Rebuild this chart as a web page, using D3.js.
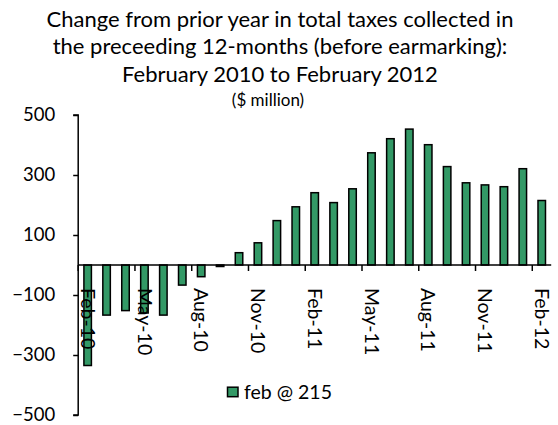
<!DOCTYPE html>
<html>
<head>
<meta charset="utf-8">
<script src="https://cdn.jsdelivr.net/npm/d3@7"></script>
<style>
  html, body { margin: 0; padding: 0; background: #fff; }
  svg { display: block; font-family: Lato, "Open Sans", sans-serif; }
</style>
</head>
<body>
<svg id="chart" width="558" height="425"></svg>
<script>
const months = ["Feb-10","Mar-10","Apr-10","May-10","Jun-10","Jul-10","Aug-10","Sep-10","Oct-10","Nov-10","Dec-10","Jan-11",
                "Feb-11","Mar-11","Apr-11","May-11","Jun-11","Jul-11","Aug-11","Sep-11","Oct-11","Nov-11","Dec-11","Jan-12","Feb-12"];
const values = [-335,-167,-152,-160,-167,-67,-39,-5,41,74,148,194,
                241,208,254,374,421,453,401,328,274,267,261,321,215];
const xTickLabels = ["Feb-10","May-10","Aug-10","Nov-10","Feb-11","May-11","Aug-11","Nov-11","Feb-12"];
const yTicks = [-500,-300,-100,100,300,500];
const titleLines = ["Change from prior year in total taxes collected in",
                    "the preceeding 12-months (before earmarking):",
                    "February 2010 to February 2012"];
const subtitle = "($ million)";
const seriesName = "feb @ 215";

(function () {
const svg = d3.select("#chart");
const pLeft = 78.2, pRight = 551.2, pTop = 115, pBottom = 415;

const x = d3.scaleBand().domain(months).range([pLeft, pRight]).padding(0);
const y = d3.scaleLinear().domain([-500, 500]).range([pBottom, pTop]);

// title
const titleG = svg.append("g").attr("font-size", 22).attr("fill", "#000").attr("text-anchor", "middle");
titleLines.forEach((t, i) => {
  titleG.append("text").attr("x", 280).attr("y", 26.5 + i * 27.5).text(t);
});
svg.append("text").attr("x", 268).attr("y", 106).attr("font-size", 17)
  .attr("text-anchor", "middle").text(subtitle);

// bars
const barW = 7.5;
svg.append("g").selectAll("rect").data(values).join("rect")
  .attr("x", (d, i) => x(months[i]) + x.bandwidth() / 2 - barW / 2)
  .attr("y", d => y(Math.max(0, d)))
  .attr("width", barW)
  .attr("height", d => Math.abs(y(d) - y(0)))
  .attr("fill", "#339966")
  .attr("stroke", "#000")
  .attr("stroke-width", 1.5);

// y axis
const yAxis = d3.axisLeft(y).tickValues(yTicks).tickSize(5).tickPadding(18).tickFormat(d3.format("d"));
const yg = svg.append("g").attr("transform", `translate(${pLeft},0)`).call(yAxis);
yg.select(".domain").attr("stroke", "#000").attr("stroke-width", 1.5).attr("d", `M-5,${pTop}H0V${pBottom}H-5`);
yg.selectAll(".tick line").attr("stroke", "#000").attr("stroke-width", 1.5);
yg.selectAll(".tick text").attr("font-size", 18.5).attr("font-family", "Lato, 'Open Sans', sans-serif").attr("fill", "#000");

// x axis at zero
const xg = svg.append("g").attr("transform", `translate(0,${y(0)})`);
xg.append("line").attr("x1", pLeft).attr("x2", pRight).attr("stroke", "#000").attr("stroke-width", 1.5);
const tickIdx = xTickLabels.map(l => months.indexOf(l));
xg.selectAll("line.tk").data(tickIdx).join("line").attr("class", "tk")
  .attr("x1", i => x(months[i])).attr("x2", i => x(months[i]))
  .attr("y1", 0).attr("y2", 6).attr("stroke", "#000").attr("stroke-width", 1.5);
xg.selectAll("text").data(xTickLabels).join("text")
  .attr("transform", l => `translate(${x(l) + x.bandwidth() / 2},23) rotate(90)`)
  .attr("dy", "0.35em")
  .attr("font-size", 19.5)
  .attr("fill", "#000")
  .text(l => l);

// legend
const lg = svg.append("g");
lg.append("rect").attr("x", 227.5).attr("y", 387.2).attr("width", 10.5).attr("height", 9.5)
  .attr("fill", "#339966").attr("stroke", "#000").attr("stroke-width", 1.5);
lg.append("text").attr("x", 244).attr("y", 398.5).attr("font-size", 19.5).attr("fill", "#000").text(seriesName);
})();
</script>
</body>
</html>
